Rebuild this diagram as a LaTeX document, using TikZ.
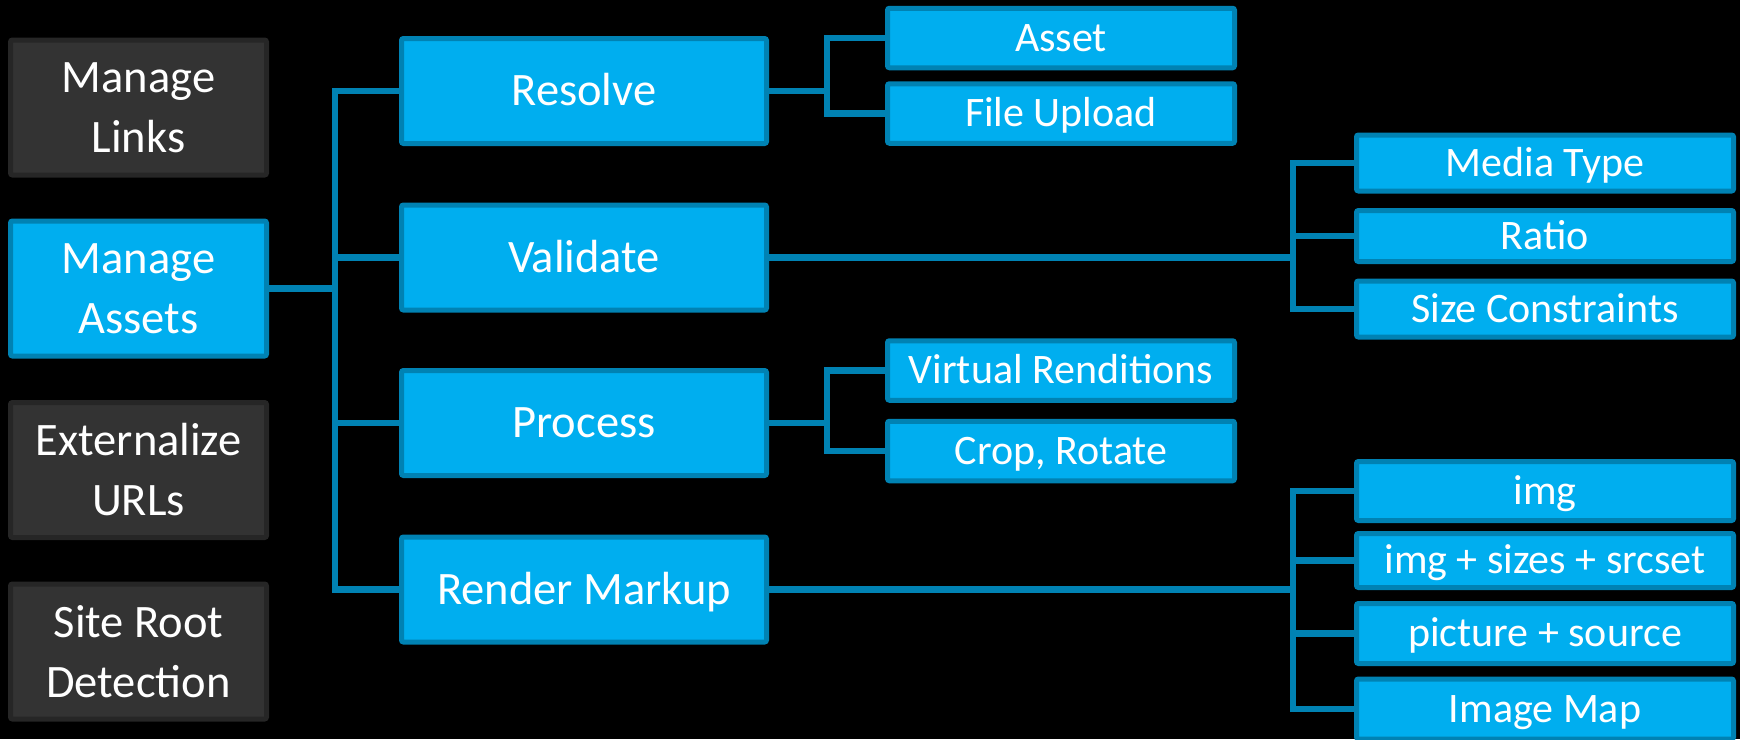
\documentclass[tikz,border=0pt]{standalone}
\usepackage{fontspec}
\setmainfont{Carlito}
\definecolor{boxfill}{HTML}{00AEEF}
\definecolor{boxline}{HTML}{0082B3}
\definecolor{greyfill}{HTML}{333333}
\definecolor{greyline}{HTML}{262626}
\tikzset{
  base/.style={rectangle, rounded corners=1pt, line width=2.5pt, inner sep=0pt,
    outer sep=0pt, text=white, align=center},
  bigtext/.style={font=\fontsize{23.25pt}{30pt}\selectfont},
  smalltext/.style={font=\fontsize{21pt}{25pt}\selectfont},
  tallbox/.style={base, bigtext, minimum width=128pt, minimum height=67.5pt},
  greybox/.style={tallbox, fill=greyfill, draw=greyline},
  bluebox/.style={tallbox, fill=boxfill, draw=boxline},
  midbox/.style={base, bigtext, fill=boxfill, draw=boxline,
    minimum width=182.5pt, minimum height=52.5pt,
    text height=14.9pt, text depth=0pt},
  leafa/.style={base, smalltext, fill=boxfill, draw=boxline,
    minimum width=173.5pt, minimum height=29.75pt,
    text height=13.4pt, text depth=0pt},
  leafb/.style={base, smalltext, fill=boxfill, draw=boxline,
    minimum width=188.5pt, minimum height=#1,
    text height=13.4pt, text depth=0pt},
  leafb/.default=29.5pt,
  link/.style={draw=boxline, line width=3.25pt}
}
\begin{document}
\begin{tikzpicture}[x=0.5pt, y=-0.5pt]
  % canvas
  \fill[black] (0,0) rectangle (1740,739);
  \useasboundingbox (0,0) rectangle (1740,739);

  % left column
  \node[greybox] (links) at (138.5,107.5) {Manage\\Links};
  \node[bluebox] (assets) at (138.5,288.5) {Manage\\Assets};
  \node[greybox] (urls) at (138.5,470) {Externalize\\URLs};
  \node[greybox] (siteroot) at (138.5,651.5) {Site Root\\Detection};

  % middle column
  \node[midbox] (resolve) at (584,91) {Resolve};
  \node[midbox] (validate) at (584,257.5) {Validate};
  \node[midbox] (process) at (584,423) {Process};
  \node[midbox] (render) at (584,589.5) {Render Markup};

  % leaves of Resolve and Process
  \node[leafa] (asset) at (1061,38) {Asset};
  \node[leafa] (upload) at (1061,113.5) {File Upload};
  \node[leafa] (virtual) at (1061,370.5) {Virtual Renditions};
  \node[leafa] (crop) at (1061,451) {Crop, Rotate};

  % leaves of Validate
  \node[leafb=28pt] (media) at (1545,163) {Media Type};
  \node[leafb=25.5pt] (ratio) at (1545,236) {Ratio};
  \node[leafb=28pt] (sizec) at (1545,309) {Size Constraints};

  % leaves of Render Markup
  \node[leafb=29.5pt] (img) at (1545,491) {img};
  \node[leafb=27pt] (imgsizes) at (1545,560.5) {img + sizes + srcset};
  \node[leafb=30pt] (picture) at (1545,633.5) {picture + source};
  \node[leafb=30pt] (imagemap) at (1545,709) {Image Map};

  % branch columns
  \coordinate (busA) at (335,0);
  \coordinate (busB) at (827,0);
  \coordinate (busC) at (1293,0);

  % Manage Assets to its four steps
  \draw[link] (assets.east) -- (assets.east -| busA);
  \draw[link] (resolve.west) -- (resolve.west -| busA) -- (render.west -| busA) -- (render.west);
  \draw[link] (validate.west -| busA) -- (validate.west);
  \draw[link] (process.west -| busA) -- (process.west);

  % Resolve
  \draw[link] (resolve.east) -- (resolve.east -| busB);
  \draw[link] (asset.west) -- (asset.west -| busB) -- (upload.west -| busB) -- (upload.west);

  % Process
  \draw[link] (process.east) -- (process.east -| busB);
  \draw[link] (virtual.west) -- (virtual.west -| busB) -- (crop.west -| busB) -- (crop.west);

  % Validate
  \draw[link] (validate.east) -- (validate.east -| busC);
  \draw[link] (media.west) -- (media.west -| busC) -- (sizec.west -| busC) -- (sizec.west);
  \draw[link] (ratio.west -| busC) -- (ratio.west);

  % Render Markup
  \draw[link] (render.east) -- (render.east -| busC);
  \draw[link] (img.west) -- (img.west -| busC) -- (imagemap.west -| busC) -- (imagemap.west);
  \draw[link] (imgsizes.west -| busC) -- (imgsizes.west);
  \draw[link] (picture.west -| busC) -- (picture.west);
\end{tikzpicture}
\end{document}
